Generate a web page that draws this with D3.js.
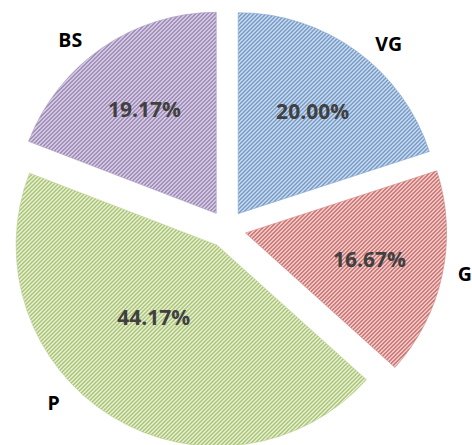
<!DOCTYPE html>
<html>
<head>
<meta charset="utf-8">
<script src="https://cdn.jsdelivr.net/npm/d3@7"></script>
<style>
  html, body { margin: 0; padding: 0; background: #ffffff; overflow: hidden; }
  svg { display: block; }
  .pct { font-family: "Open Sans", sans-serif; font-weight: 700; font-size: 21px; fill: #404040; }
  .cat { font-family: "Open Sans", sans-serif; font-weight: 700; font-size: 19.5px; fill: #000000; }
</style>
</head>
<body>
<div id="chart"></div>
<script>
// data
const categories = ["VG", "G", "P", "BS"];
const shares = [20.00, 16.67, 44.17, 19.17];
const colours = ["#4F81BD", "#C0504D", "#9BBB59", "#8064A2"];

const width = 472, height = 445;
const cx = 227, cy = 229;
const radius = 201;
const explode = 19;

// label tweaks (degrees / fraction of radius) to follow the original placement
const pctPlace = {P: {da: 10, r: 0.475}};
const catPlace = {VG: {da: 5.5}, G: {da: -1.4, r: 1.11}, P: {da: 14.5}, BS: {da: -5.5}};

const svg = d3.select("#chart").append("svg")
    .attr("width", width)
    .attr("height", height);

// hatch patterns, one per colour
const defs = svg.append("defs");
colours.forEach((c, i) => {
    const p = defs.append("pattern")
        .attr("id", "hatch" + i)
        .attr("patternUnits", "userSpaceOnUse")
        .attr("width", 4)
        .attr("height", 4);
    p.append("rect")
        .attr("width", 4).attr("height", 4)
        .attr("fill", d3.interpolateRgb("#ffffff", c)(0.1));
    p.append("path")
        .attr("d", "M-1,1 L1,-1 M0,4 L4,0 M3,5 L5,3")
        .attr("stroke", d3.interpolateRgb("#ffffff", c)(0.95))
        .attr("stroke-width", 1.5);
});

const data = categories.map((c, i) => ({cat: c, value: shares[i], idx: i}));

const pie = d3.pie()
    .sort(null)
    .value(d => d.value);

const arc = d3.arc()
    .innerRadius(0)
    .outerRadius(radius);

const fmt = d3.format(".2f");
const rad = deg => deg * Math.PI / 180;

const g = svg.append("g")
    .attr("transform", "translate(" + cx + "," + cy + ")");

const slices = g.selectAll("g.slice")
    .data(pie(data))
    .enter().append("g")
    .attr("class", "slice")
    .attr("transform", d => {
        const mid = (d.startAngle + d.endAngle) / 2;
        return "translate(" + (explode * Math.sin(mid)) + "," + (-explode * Math.cos(mid)) + ")";
    });

slices.append("path")
    .attr("d", arc)
    .attr("fill", d => "url(#hatch" + d.data.idx + ")")
    .attr("stroke", d => d3.interpolateRgb("#ffffff", colours[d.data.idx])(0.7))
    .attr("stroke-width", 0.6);

// percentage labels inside
slices.append("text")
    .attr("class", "pct")
    .attr("text-anchor", "middle")
    .attr("dominant-baseline", "central")
    .attr("transform", d => {
        const t = pctPlace[d.data.cat] || {};
        const a = (d.startAngle + d.endAngle) / 2 + rad(t.da || 0);
        const r = radius * (t.r || 0.63);
        return "translate(" + (r * Math.sin(a)) + "," + (-r * Math.cos(a)) + ")";
    })
    .text(d => fmt(d.data.value) + "%");

// category labels outside
slices.append("text")
    .attr("class", "cat")
    .attr("text-anchor", "middle")
    .attr("dominant-baseline", "central")
    .attr("transform", d => {
        const t = catPlace[d.data.cat] || {};
        const a = (d.startAngle + d.endAngle) / 2 + rad(t.da || 0);
        const r = radius * (t.r || 1.13);
        return "translate(" + (r * Math.sin(a)) + "," + (-r * Math.cos(a)) + ")";
    })
    .text(d => d.data.cat);
</script>
</body>
</html>
